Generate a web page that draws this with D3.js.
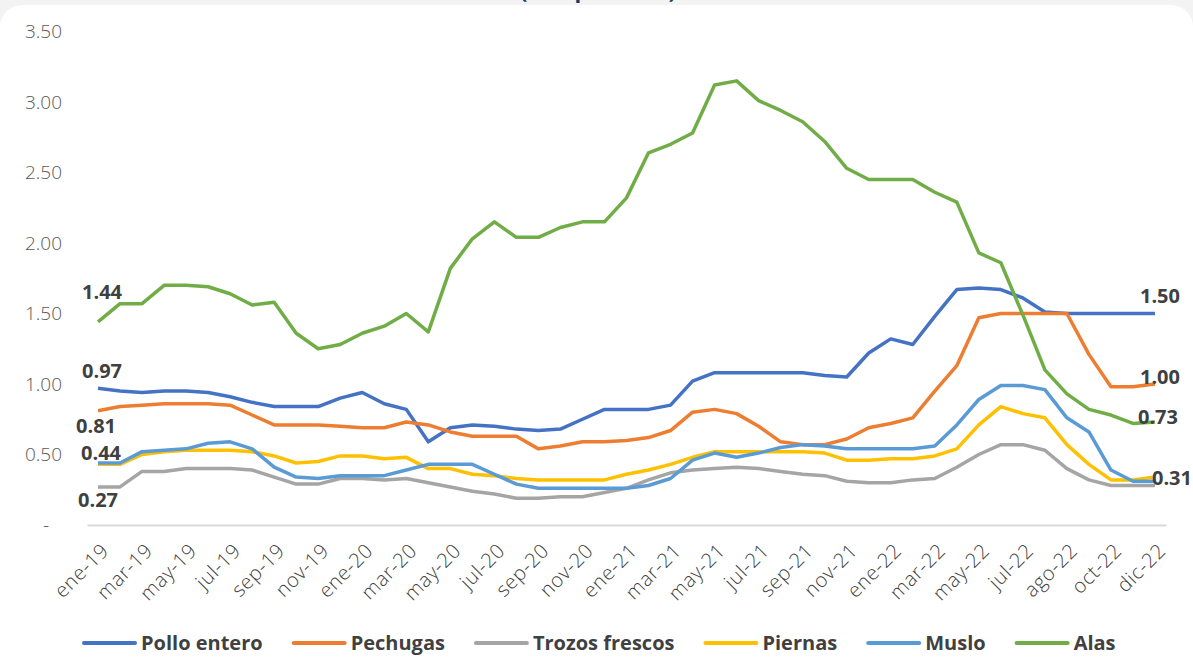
<!DOCTYPE html>
<html>
<head>
<meta charset="utf-8">
<script src="https://cdn.jsdelivr.net/npm/d3@7"></script>
<style>
  html, body { margin: 0; padding: 0; background: #f3f3f3; }
  svg { display: block; }
</style>
</head>
<body>
<svg id="chart" width="1193" height="671"></svg>
<script>
// Monthly categories (one extra July 2022 observation sits between jul-22 and ago-22)
const categories = [
  "ene-19","feb-19","mar-19","abr-19","may-19","jun-19","jul-19","ago-19","sep-19","oct-19","nov-19","dic-19",
  "ene-20","feb-20","mar-20","abr-20","may-20","jun-20","jul-20","ago-20","sep-20","oct-20","nov-20","dic-20",
  "ene-21","feb-21","mar-21","abr-21","may-21","jun-21","jul-21","ago-21","sep-21","oct-21","nov-21","dic-21",
  "ene-22","feb-22","mar-22","abr-22","may-22","jun-22","jul-22","jul-22","ago-22","sep-22","oct-22","nov-22","dic-22"
];

const seriesNames = ["Pollo entero", "Pechugas", "Trozos frescos", "Piernas", "Muslo", "Alas"];
const seriesColors = ["#4472C4", "#ED7D31", "#A5A5A5", "#FFC000", "#5B9BD5", "#70AD47"];

const polloEntero = [0.97,0.95,0.94,0.95,0.95,0.94,0.91,0.87,0.84,0.84,0.84,0.90,0.94,0.86,0.82,0.59,0.69,0.71,0.70,0.68,0.67,0.68,0.75,0.82,0.82,0.82,0.85,1.02,1.08,1.08,1.08,1.08,1.08,1.06,1.05,1.22,1.32,1.28,1.48,1.67,1.68,1.67,1.61,1.51,1.50,1.50,1.50,1.50,1.50];
const pechugas = [0.81,0.84,0.85,0.86,0.86,0.86,0.85,0.78,0.71,0.71,0.71,0.70,0.69,0.69,0.73,0.71,0.66,0.63,0.63,0.63,0.54,0.56,0.59,0.59,0.60,0.62,0.67,0.80,0.82,0.79,0.70,0.59,0.57,0.57,0.61,0.69,0.72,0.76,0.95,1.13,1.47,1.50,1.50,1.50,1.50,1.21,0.98,0.98,1.00];
const trozosFrescos = [0.27,0.27,0.38,0.38,0.40,0.40,0.40,0.39,0.34,0.29,0.29,0.33,0.33,0.32,0.33,0.30,0.27,0.24,0.22,0.19,0.19,0.20,0.20,0.23,0.26,0.32,0.37,0.39,0.40,0.41,0.40,0.38,0.36,0.35,0.31,0.30,0.30,0.32,0.33,0.41,0.50,0.57,0.57,0.53,0.40,0.32,0.28,0.28,0.28];
const piernas = [0.43,0.43,0.50,0.52,0.53,0.53,0.53,0.52,0.49,0.44,0.45,0.49,0.49,0.47,0.48,0.40,0.40,0.36,0.35,0.33,0.32,0.32,0.32,0.32,0.36,0.39,0.43,0.48,0.52,0.52,0.52,0.52,0.52,0.51,0.46,0.46,0.47,0.47,0.49,0.54,0.71,0.84,0.79,0.76,0.57,0.43,0.32,0.32,0.34];
const muslo = [0.44,0.44,0.52,0.53,0.54,0.58,0.59,0.54,0.41,0.34,0.33,0.35,0.35,0.35,0.39,0.43,0.43,0.43,0.36,0.29,0.26,0.26,0.26,0.26,0.26,0.28,0.33,0.46,0.51,0.48,0.51,0.55,0.57,0.56,0.54,0.54,0.54,0.54,0.56,0.71,0.89,0.99,0.99,0.96,0.76,0.66,0.39,0.31,0.31];
const alas = [1.44,1.57,1.57,1.70,1.70,1.69,1.64,1.56,1.58,1.36,1.25,1.28,1.36,1.41,1.50,1.37,1.82,2.03,2.15,2.04,2.04,2.11,2.15,2.15,2.32,2.64,2.70,2.78,3.12,3.15,3.01,2.94,2.86,2.72,2.53,2.45,2.45,2.45,2.36,2.29,1.93,1.86,1.49,1.10,0.93,0.82,0.78,0.72,0.73];

const yTicks = [0, 0.5, 1.0, 1.5, 2.0, 2.5, 3.0, 3.5];

const seriesValues = [polloEntero, pechugas, trozosFrescos, piernas, muslo, alas];
const series = seriesNames.map((name, k) => ({ name, color: seriesColors[k], values: seriesValues[k] }));

const svg = d3.select("#chart");
const W = 1193, H = 671;

// white card with rounded top corners
svg.append("rect").attr("x", 0).attr("y", 5).attr("width", W).attr("height", H + 40)
  .attr("rx", 22).attr("fill", "#ffffff");

// title (runs off the top edge)
svg.append("text").attr("x", 598).attr("y", -2).attr("text-anchor", "middle")
  .attr("font-family", "'Open Sans', sans-serif").attr("font-weight", 700)
  .attr("font-size", 22).attr("fill", "#1f3864").text("(US$ por libra)");

const x = d3.scaleBand().domain(d3.range(categories.length)).range([87, 1166]);
const cx = i => x(i) + x.bandwidth() / 2;
const y = d3.scaleLinear().domain([0, 3.5]).range([525, 31.5]);

// y axis labels
const yAxis = svg.append("g").attr("transform", "translate(62,0)")
  .call(d3.axisLeft(y).tickValues(yTicks).tickSize(0).tickPadding(0)
    .tickFormat(v => v === 0 ? "-" : d3.format(".2f")(v)));
yAxis.select(".domain").remove();
yAxis.selectAll("text")
  .attr("font-family", "'Open Sans', sans-serif").attr("font-weight", 300)
  .attr("font-size", 19).attr("fill", "#595959")
  .attr("dx", v => v === 0 ? -13 : 0);

// category axis baseline and labels
const xAxis = svg.append("g").attr("transform", "translate(0,525)")
  .call(d3.axisBottom(x).tickValues(d3.range(0, categories.length, 2)).tickSize(0)
    .tickFormat(i => categories[i]));
xAxis.select(".domain").attr("stroke", "#d9d9d9").attr("stroke-width", 2);
xAxis.selectAll("text")
  .attr("font-family", "'Open Sans', sans-serif").attr("font-weight", 300)
  .attr("font-size", 20).attr("letter-spacing", 0.6).attr("fill", "#404040")
  .attr("text-anchor", "end")
  .attr("transform", "translate(7,22) rotate(-45)")
  .attr("dy", "0.35em").attr("y", 0);

// series lines
const line = d3.line().x((d, i) => cx(i)).y(d => y(d));
svg.append("g").selectAll("path").data(series).join("path")
  .attr("d", s => line(s.values))
  .attr("fill", "none").attr("stroke", s => s.color)
  .attr("stroke-width", 3.5).attr("stroke-linejoin", "round");

// value labels at the start and end of selected series
const labelSpecs = [
  { s: "Alas", at: "first", dx: 4, dy: -23 },
  { s: "Pollo entero", at: "first", dx: 4, dy: -10 },
  { s: "Pechugas", at: "first", dx: -2, dy: 22 },
  { s: "Muslo", at: "first", dx: 3, dy: -3 },
  { s: "Trozos frescos", at: "first", dx: 0, dy: 20 },
  { s: "Pollo entero", at: "last", dx: 5, dy: -11 },
  { s: "Pechugas", at: "last", dx: 5, dy: 0 },
  { s: "Alas", at: "last", dx: 3, dy: 2 },
  { s: "Muslo", at: "last", dx: 17, dy: 4 }
];
svg.append("g").selectAll("text").data(labelSpecs).join("text")
  .each(function (d) {
    const ser = series.find(s => s.name === d.s);
    const i = d.at === "first" ? 0 : ser.values.length - 1;
    d3.select(this)
      .attr("x", cx(i) + d.dx).attr("y", y(ser.values[i]) + d.dy)
      .text(d3.format(".2f")(ser.values[i]));
  })
  .attr("text-anchor", "middle")
  .attr("font-family", "'Open Sans', sans-serif").attr("font-weight", 700)
  .attr("font-size", 20).attr("fill", "#404040");

// legend
const legend = svg.append("g").attr("transform", "translate(0,643)");
let lx = 84;
series.forEach(s => {
  const g = legend.append("g").attr("transform", `translate(${lx},0)`);
  g.append("line").attr("x1", 0).attr("x2", 51).attr("y1", 0).attr("y2", 0)
    .attr("stroke", s.color).attr("stroke-width", 4).attr("stroke-linecap", "round");
  const t = g.append("text").attr("x", 57).attr("y", 0).attr("dy", "0.35em")
    .attr("font-family", "'Open Sans', sans-serif").attr("font-weight", 700)
    .attr("font-size", 20).attr("fill", "#404040").text(s.name);
  lx += 57 + t.node().getComputedTextLength() + 31;
});
</script>
</body>
</html>
